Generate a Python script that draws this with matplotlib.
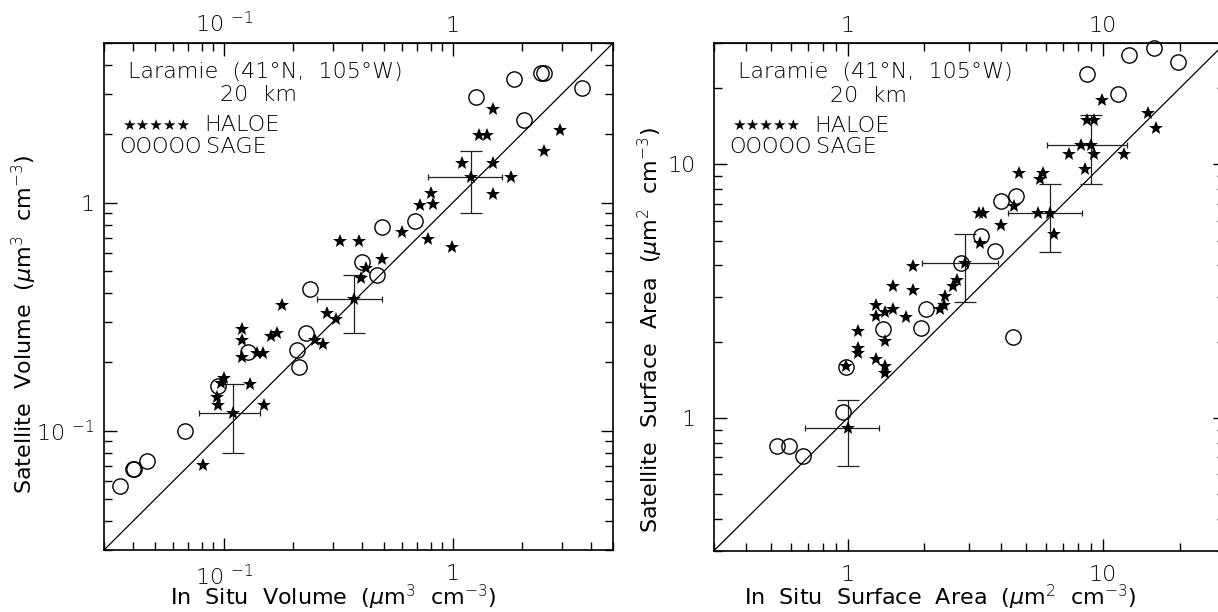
import numpy as np
import matplotlib.pyplot as plt
from matplotlib.ticker import LogLocator, NullFormatter, NullLocator

plt.rcParams['font.family'] = ['DejaVu Sans']
plt.rcParams['font.weight'] = 'light'
plt.rcParams['mathtext.fontset'] = 'dejavusans'

# --- aerosol volume (um^3 cm^-3): in situ vs satellite ---
vol_haloe_insitu = [1.50, 1.30, 1.41, 2.92, 2.51, 1.10, 1.50, 1.80, 1.50, 0.80,
                    0.72, 0.82, 0.60, 0.776, 0.996, 0.321, 0.391, 0.489, 0.418, 0.399,
                    0.180, 0.281, 0.309, 0.249, 0.270, 0.120, 0.120, 0.120, 0.160, 0.171,
                    0.140, 0.149, 0.100, 0.0975, 0.130, 0.0933, 0.0945, 0.150, 0.0815]
vol_haloe_sat = [2.58, 1.98, 1.98, 2.08, 1.68, 1.49, 1.49, 1.29, 1.09, 1.10,
                 0.98, 0.99, 0.74, 0.694, 0.638, 0.676, 0.676, 0.568, 0.517, 0.468,
                 0.357, 0.329, 0.308, 0.250, 0.239, 0.280, 0.250, 0.210, 0.260, 0.269,
                 0.220, 0.220, 0.170, 0.162, 0.160, 0.140, 0.129, 0.129, 0.071]
vol_sage_insitu = [1.85, 2.43, 2.51, 3.67, 1.26, 2.05, 0.682, 0.489, 0.402, 0.467,
                   0.239, 0.228, 0.209, 0.213, 0.127, 0.0945, 0.0677, 0.0464, 0.040,
                   0.0407, 0.0351]
vol_sage_sat = [3.47, 3.70, 3.70, 3.19, 2.89, 2.31, 0.834, 0.778, 0.547, 0.479,
                0.416, 0.269, 0.226, 0.191, 0.222, 0.157, 0.100, 0.0735, 0.068,
                0.068, 0.0575]
# binned means and their spread
vol_mean_insitu = [0.110, 0.369, 1.20]
vol_mean_sat = [0.119, 0.378, 1.29]
vol_insitu_lo = [0.078, 0.256, 0.78]
vol_insitu_hi = [0.144, 0.489, 1.64]
vol_sat_lo = [0.080, 0.269, 0.904]
vol_sat_hi = [0.160, 0.482, 1.68]

# --- aerosol surface area (um^2 cm^-3) ---
sa_haloe_insitu = [9.9, 14.96, 16.07, 8.69, 9.23, 8.22, 7.39, 9.23, 12.08, 8.51,
                   4.69, 5.80, 5.69, 4.49, 3.28, 3.39, 5.58, 6.43, 4.00, 3.30,
                   1.80, 2.68, 2.58, 1.50, 1.80, 2.41, 1.29, 1.29, 1.40, 1.50,
                   1.70, 2.29, 2.39, 1.10, 1.10, 1.10, 1.40, 1.29, 1.40, 1.40, 0.986]
sa_haloe_sat = [18.0, 15.95, 13.93, 14.92, 14.92, 11.9, 10.95, 10.95, 10.95, 9.56,
                9.28, 9.22, 8.74, 6.86, 6.41, 6.41, 6.41, 5.31, 5.78, 4.89,
                3.99, 3.51, 3.32, 3.32, 3.21, 3.02, 2.80, 2.53, 2.62, 2.70,
                2.50, 2.70, 2.80, 2.20, 1.89, 1.80, 2.01, 1.71, 1.60, 1.50, 1.60]
sa_sage_insitu = [8.69, 12.65, 15.8, 19.6, 11.4, 4.57, 3.97, 3.33, 3.77, 2.78,
                  2.03, 1.376, 1.93, 4.46, 0.986, 0.96, 0.531, 0.590, 0.667]
sa_sage_sat = [22.7, 27.0, 28.8, 25.3, 18.9, 7.51, 7.14, 5.21, 4.55, 4.08,
               2.68, 2.24, 2.27, 2.09, 1.595, 1.055, 0.774, 0.774, 0.711]
sa_mean_insitu = [1.0, 2.88, 6.21, 8.97]
sa_mean_sat = [0.914, 4.08, 6.41, 11.9]
sa_insitu_lo = [0.682, 1.955, 4.26, 6.05]
sa_insitu_hi = [1.33, 3.88, 8.24, 12.4]
sa_sat_lo = [0.647, 2.88, 4.51, 8.35]
sa_sat_hi = [1.18, 5.31, 8.35, 15.6]


def panel(ax, hx, hy, sx, sy, mx, my, xlo, xhi, ylo, yhi, lims, ticks, ticklabels,
          xlabel, ylabel, ypad, xlab_pos, ylab_pos):
    ax.set_xscale('log')
    ax.set_yscale('log')
    ax.set_xlim(lims)
    ax.set_ylim(lims)

    # one-to-one line
    ax.plot(lims, lims, color='black', lw=0.9)

    mx = np.array(mx)
    my = np.array(my)
    ax.errorbar(mx, my, yerr=[my - np.array(ylo), np.array(yhi) - my], fmt='none',
                ecolor='#222222', elinewidth=0.9, capsize=8, capthick=0.9)
    ax.errorbar(mx, my, xerr=[mx - np.array(xlo), np.array(xhi) - mx], fmt='none',
                ecolor='#222222', elinewidth=0.9, capsize=2.5, capthick=0.9)

    ax.plot(sx, sy, 'o', ms=11, mfc='none', mec='black', mew=1.0, clip_on=False)
    ax.plot(hx, hy, '*', ms=10, color='black', mew=0)
    ax.plot(mx, my, '*', ms=10, color='black', mew=0)

    ax.set_xticks(ticks, labels=ticklabels)
    ax.set_yticks(ticks, labels=ticklabels)
    ax.xaxis.set_minor_locator(LogLocator(base=10, subs=np.arange(2, 10)))
    ax.yaxis.set_minor_locator(LogLocator(base=10, subs=np.arange(2, 10)))
    ax.xaxis.set_minor_formatter(NullFormatter())
    ax.yaxis.set_minor_formatter(NullFormatter())
    ax.tick_params(which='both', direction='in', top=True, right=True,
                   labelsize=16, width=1.0)
    ax.tick_params(which='major', length=9)
    ax.tick_params(which='minor', length=6)
    ax.tick_params(axis='x', pad=10)
    ax.tick_params(axis='y', pad=ypad)
    for sp in ax.spines.values():
        sp.set_linewidth(1.2)

    # labels along the top edge, sitting a little closer than the bottom ones
    top = ax.secondary_xaxis('top')
    top.set_xticks(ticks, labels=ticklabels)
    top.xaxis.set_minor_locator(NullLocator())
    top.tick_params(length=0, pad=5, labelsize=16)

    ax.set_xlabel(xlabel, fontsize=16)
    ax.set_ylabel(ylabel, fontsize=16)
    ax.xaxis.label.set_va('center')
    ax.yaxis.label.set_va('center')
    ax.xaxis.set_label_coords(*xlab_pos)
    ax.yaxis.set_label_coords(*ylab_pos)

    ax.text(0.047, 0.943, 'Laramie  (41°N,  105°W)', transform=ax.transAxes,
            fontsize=16, ha='left', va='center')
    ax.text(0.303, 0.897, '20  km', transform=ax.transAxes,
            fontsize=16, ha='center', va='center')
    ax.text(0.036, 0.838, '★★★★★', transform=ax.transAxes, fontweight='normal',
            fontsize=11, ha='left', va='center')
    ax.text(0.197, 0.838, 'HALOE', transform=ax.transAxes,
            fontsize=16, ha='left', va='center')
    ax.text(0.030, 0.795, 'OOOOO', transform=ax.transAxes,
            fontsize=15, ha='left', va='center')
    ax.text(0.200, 0.795, 'SAGE', transform=ax.transAxes,
            fontsize=16, ha='left', va='center')


fig = plt.figure(figsize=(12.18, 6.12), dpi=100)
ax1 = fig.add_axes([0.0854, 0.1013, 0.4179, 0.8284])
ax2 = fig.add_axes([0.5862, 0.1002, 0.4195, 0.8290])

panel(ax1, vol_haloe_insitu, vol_haloe_sat, vol_sage_insitu, vol_sage_sat,
      vol_mean_insitu, vol_mean_sat, vol_insitu_lo, vol_insitu_hi,
      vol_sat_lo, vol_sat_hi, (0.03, 5), [0.1, 1], [r'10 $^{-1}$', '1'],
      r'In  Situ  Volume  ($\mu$m$^3$  cm$^{-3}$)',
      r'Satellite  Volume  ($\mu$m$^3$  cm$^{-3}$)',
      7, (0.45, -0.094), (-0.157, 0.446))

panel(ax2, sa_haloe_insitu, sa_haloe_sat, sa_sage_insitu, sa_sage_sat,
      sa_mean_insitu, sa_mean_sat, sa_insitu_lo, sa_insitu_hi,
      sa_sat_lo, sa_sat_hi, (0.3, 30), [1, 10], ['1', '10'],
      r'In  Situ  Surface  Area  ($\mu$m$^2$  cm$^{-3}$)',
      r'Satellite  Surface  Area  ($\mu$m$^2$  cm$^{-3}$)',
      13, (0.442, -0.093), (-0.125, 0.434))

fig.savefig('out.png', dpi=100)
